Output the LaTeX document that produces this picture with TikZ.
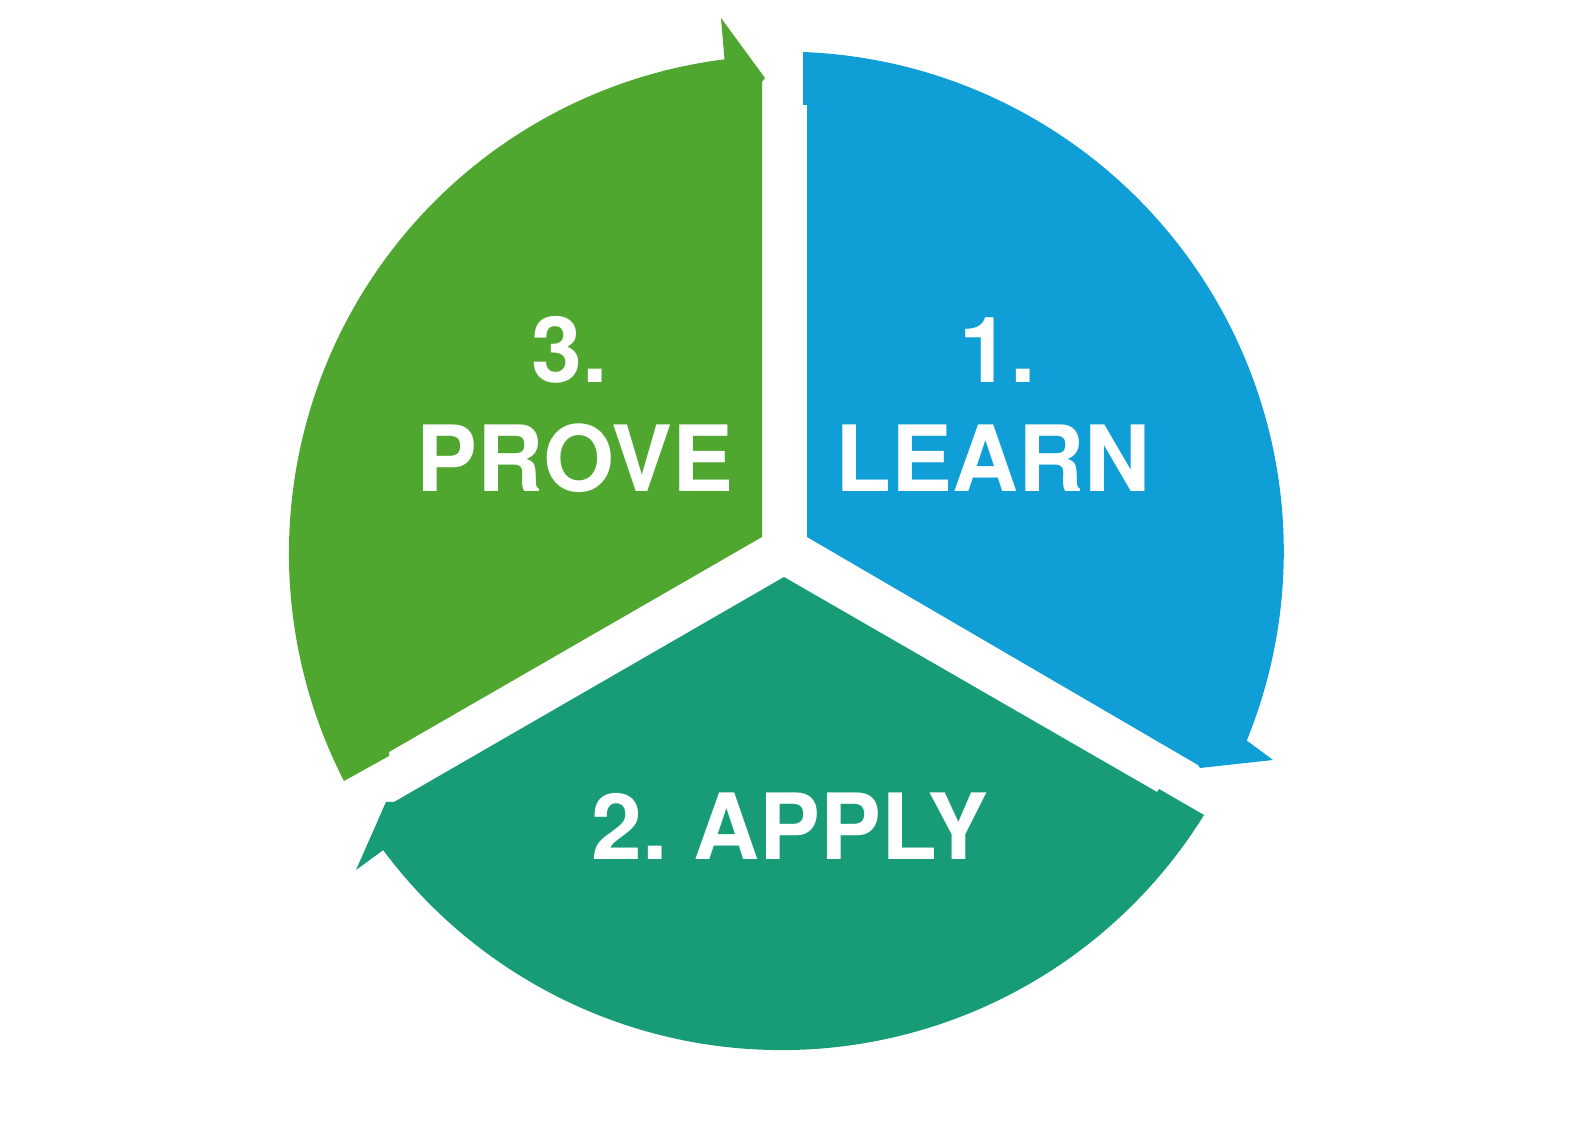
\documentclass[tikz,border=0pt]{standalone}
\usepackage{fontspec}
\setmainfont{TeX Gyre Heros}
\definecolor{learnblue}{HTML}{0F9ED6}
\definecolor{applyteal}{HTML}{179C77}
\definecolor{provegreen}{HTML}{4FA72F}
\tikzset{phase/.style={text=white, font=\bfseries\fontsize{26}{30}\selectfont, align=center}}
\begin{document}
\begin{tikzpicture}
            \useasboundingbox (0,0) rectangle (15.95,-11.32);

            % learn
            \fill[learnblue] (8.03,-1.05) -- (8.03,-0.52) arc[start angle=87.8, end angle=-22.2, radius=5.0]
                -- (12.73,-7.60) -- (12.00,-7.68) -- (11.98,-7.65) -- (8.07,-5.37) -- (8.07,-1.05) -- cycle;
            \node[phase] (num1) at (9.98,-3.50) {1.};
            \node[phase] (learn) at (9.93,-4.58) {LEARN};

            % apply
            \fill[applyteal] (7.84,-5.77) -- (11.57,-7.92) -- (11.59,-7.89) -- (12.04,-8.15)
                arc[start angle=-31.8, end angle=-143.3, radius=4.97] -- (3.56,-8.70) -- (3.86,-8.02) -- (3.94,-8.02) -- cycle;
            \node[phase] (apply) at (7.90,-8.26) {2.\ APPLY};

            % prove
            \fill[provegreen] (7.62,-5.37) -- (3.89,-7.52) -- (3.89,-7.56) -- (3.44,-7.81)
                arc[start angle=207.2, end angle=97.2, radius=4.98] -- (7.21,-0.18) -- (7.65,-0.78) -- (7.62,-0.82) -- cycle;
            \node[phase] (num3) at (5.70,-3.50) {3.};
            \node[phase] (prove) at (5.75,-4.58) {PROVE};
        \end{tikzpicture}
\end{document}
